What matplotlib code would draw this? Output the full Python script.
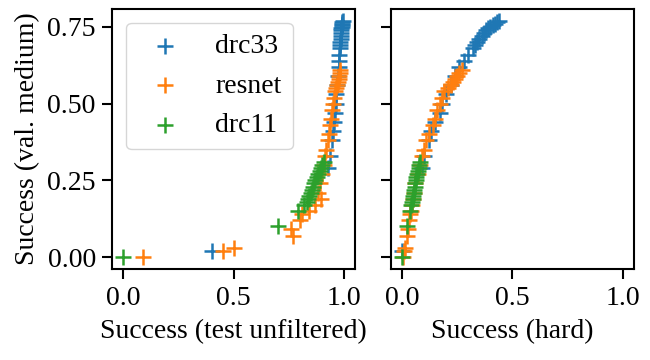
import matplotlib
matplotlib.use("Agg")
import matplotlib.pyplot as plt

plt.rcParams["font.family"] = ["Liberation Serif", "DejaVu Serif"]
plt.rcParams["font.size"] = 20
plt.rcParams["axes.linewidth"] = 1.5
plt.rcParams["xtick.major.width"] = 1.5
plt.rcParams["ytick.major.width"] = 1.5
plt.rcParams["xtick.major.size"] = 7
plt.rcParams["ytick.major.size"] = 7
plt.rcParams["xtick.major.pad"] = 5
plt.rcParams["ytick.major.pad"] = 5

# drc33
drc33_medium = [0.02, 0.29, 0.33, 0.38, 0.41, 0.44, 0.47, 0.50, 0.53, 0.56, 0.59, 0.62,
                0.64, 0.66, 0.68, 0.69, 0.70, 0.71, 0.72, 0.73, 0.74, 0.745, 0.75, 0.755,
                0.76, 0.765, 0.77]
drc33_unfilt = [0.40, 0.925, 0.935, 0.945, 0.95, 0.955, 0.96, 0.962, 0.965, 0.97, 0.972, 0.975,
                0.976, 0.978, 0.98, 0.982, 0.983, 0.985, 0.985, 0.986, 0.987, 0.988, 0.99, 0.99,
                0.991, 0.992, 0.993]
drc33_hard = [0.0, 0.09, 0.10, 0.12, 0.13, 0.15, 0.17, 0.18, 0.20, 0.22, 0.24, 0.26,
              0.28, 0.30, 0.32, 0.33, 0.34, 0.35, 0.36, 0.37, 0.38, 0.39, 0.40, 0.41,
              0.42, 0.43, 0.44]

# resnet
resnet_medium = [0.00, 0.02, 0.03, 0.07, 0.09, 0.12, 0.14, 0.15, 0.17, 0.19, 0.21, 0.24,
                 0.27, 0.30, 0.33, 0.35, 0.38, 0.40, 0.43, 0.45, 0.48, 0.50, 0.52, 0.54,
                 0.55, 0.56, 0.57, 0.58, 0.59, 0.60, 0.61]
resnet_unfilt = [0.09, 0.45, 0.50, 0.77, 0.76, 0.80, 0.81, 0.84, 0.87, 0.895, 0.88, 0.89,
                 0.90, 0.91, 0.915, 0.917, 0.925, 0.93, 0.935, 0.94, 0.945, 0.95, 0.955, 0.96,
                 0.965, 0.97, 0.972, 0.975, 0.977, 0.98, 0.98]
resnet_hard = [0.005, 0.01, 0.015, 0.02, 0.025, 0.03, 0.035, 0.04, 0.045, 0.05, 0.055, 0.06,
               0.07, 0.08, 0.09, 0.10, 0.11, 0.12, 0.14, 0.15, 0.16, 0.17, 0.18, 0.19,
               0.21, 0.22, 0.23, 0.24, 0.25, 0.26, 0.27]

# drc11
drc11_medium = [0.00, 0.10, 0.15, 0.17, 0.18, 0.19, 0.20, 0.21, 0.22, 0.23, 0.24, 0.25,
                0.26, 0.27, 0.28, 0.29, 0.30, 0.31]
drc11_unfilt = [0.00, 0.70, 0.79, 0.82, 0.83, 0.835, 0.84, 0.85, 0.855, 0.86, 0.865, 0.87,
                0.875, 0.88, 0.89, 0.895, 0.90, 0.91]
drc11_hard = [0.0, 0.022, 0.037, 0.042, 0.045, 0.048, 0.05, 0.052, 0.055, 0.058, 0.06, 0.062,
              0.065, 0.068, 0.07, 0.075, 0.078, 0.082]

series = [
    ("drc33", drc33_unfilt, drc33_hard, drc33_medium, "C0"),
    ("resnet", resnet_unfilt, resnet_hard, resnet_medium, "C1"),
    ("drc11", drc11_unfilt, drc11_hard, drc11_medium, "C2"),
]

fig, (ax1, ax2) = plt.subplots(1, 2, figsize=(6.5, 3.6), dpi=100, sharey=True)
fig.subplots_adjust(left=0.173, right=0.975, top=0.975, bottom=0.253, wspace=0.148)

for name, unf, hard, med, c in series:
    ax1.scatter(unf, med, marker="+", s=140, linewidths=1.8, color=c, label=name)
    ax2.scatter(hard, med, marker="+", s=140, linewidths=1.8, color=c)

for ax in (ax1, ax2):
    ax.set_xlim(-0.05, 1.05)
    ax.set_xticks([0.0, 0.5, 1.0])
ax1.set_yticks([0.0, 0.25, 0.5, 0.75])

ax1.set_xlabel("Success (test unfiltered)", labelpad=6)
ax2.set_xlabel("Success (hard)", labelpad=6)
ax1.set_ylabel("Success (val. medium)", labelpad=5)
ax1.legend(loc="upper left")

plt.savefig("out.png", dpi=100)
plt.close()
